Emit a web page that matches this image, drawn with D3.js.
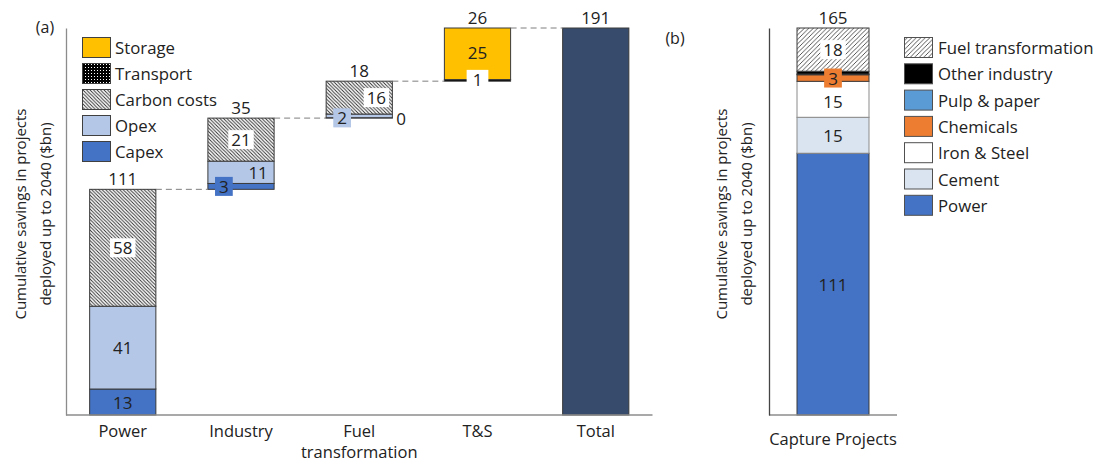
<!DOCTYPE html>
<html>
<head>
<meta charset="utf-8">
<script src="https://cdn.jsdelivr.net/npm/d3@7"></script>
<style>
  html, body { margin: 0; padding: 0; background: #fff; }
  svg text { font-family: "Open Sans", "Noto Sans", sans-serif; fill: #222; }
</style>
</head>
<body>
<svg id="chart" width="1100" height="466"></svg>
<script>
// ---- Panel (a): waterfall of savings by sector ($bn) ----
const categories = ["Power", "Industry", "Fuel transformation", "T&S"];
const totalLabel = "Total";
const capex     = [12.8, 2.9, 0.2, 0];
const opex      = [40.8, 11.0, 1.8, 0];
const carbon    = [57.6, 21.2, 16.2, 0];
const transport = [0, 0, 0, 0.8];
const storage   = [0, 0, 0, 25.4];
const seriesA = ["Capex", "Opex", "Carbon costs", "Transport", "Storage"];

// ---- Panel (b): savings by capture project type ($bn) ----
const captureCategory = ["Capture Projects"];
const seriesB = ["Power", "Cement", "Iron & Steel", "Chemicals", "Pulp & paper", "Other industry", "Fuel transformation"];
const captureValues = [111.4, 15.3, 15.3, 2.8, 0.3, 1.2, 18.4];

const yTitle = ["Cumulative savings in projects", "deployed up to 2040 ($bn)"];

const FS_VALUE = 17, FS_LEGEND = 16.8, FS_AXIS = 16.5, FS_TITLE = 15;

const fmt = d3.format(".0f");
const svg = d3.select("#chart");
const defs = svg.append("defs");

// hatch for carbon costs (\\\ direction)
const pc = defs.append("pattern").attr("id", "hatchCarbon")
  .attr("patternUnits", "userSpaceOnUse").attr("width", 3.5).attr("height", 3.5);
pc.append("rect").attr("width", 3.5).attr("height", 3.5).attr("fill", "#fff");
pc.append("path").attr("d", "M0,0 L3.5,3.5 M-1,2.5 L1,4.5 M2.5,-1 L4.5,1")
  .attr("stroke", "#2a2a2a").attr("stroke-width", 0.9);

// hatch for fuel transformation (/// direction)
const pf = defs.append("pattern").attr("id", "hatchFuel")
  .attr("patternUnits", "userSpaceOnUse").attr("width", 4.5).attr("height", 4.5);
pf.append("rect").attr("width", 4.5).attr("height", 4.5).attr("fill", "#fff");
pf.append("path").attr("d", "M0,4.5 L4.5,0 M-1,1 L1,-1 M3.5,5.5 L5.5,3.5")
  .attr("stroke", "#444").attr("stroke-width", 0.9);

// dotted fill for transport
const pt = defs.append("pattern").attr("id", "dotsTransport")
  .attr("patternUnits", "userSpaceOnUse").attr("width", 3).attr("height", 3);
pt.append("rect").attr("width", 3).attr("height", 3).attr("fill", "#000");
pt.append("rect").attr("x", 1).attr("y", 1).attr("width", 1).attr("height", 1).attr("fill", "#fff");

const fillA = {
  "Capex": "#4472C4",
  "Opex": "#B4C7E7",
  "Carbon costs": "url(#hatchCarbon)",
  "Transport": "url(#dotsTransport)",
  "Storage": "#FFC000"
};
const fillB = {
  "Power": "#4472C4",
  "Cement": "#DAE3F0",
  "Iron & Steel": "#FFFFFF",
  "Chemicals": "#ED7D31",
  "Pulp & paper": "#5B9BD5",
  "Other industry": "#000000",
  "Fuel transformation": "url(#hatchFuel)"
};
const outline = "#3a3a3a";
const axisColor = "#8c8c8c";

// ================= Panel (a) =================
const rowsA = categories.map((c, i) => ({
  cat: c,
  "Capex": capex[i], "Opex": opex[i], "Carbon costs": carbon[i],
  "Transport": transport[i], "Storage": storage[i]
}));
const catTotals = rowsA.map(r => d3.sum(seriesA, s => r[s]));
const grand = d3.sum(catTotals);
const bases = catTotals.map((t, i) => d3.sum(catTotals.slice(0, i)));

const xA = d3.scaleBand().domain([...categories, totalLabel])
  .range([66, 652.5]).paddingInner(0.44).paddingOuter(0.2);
const yA = d3.scaleLinear().domain([0, grand]).range([415, 28]);

const gA = svg.append("g");

// stacked segments with waterfall offset
const stackA = d3.stack().keys(seriesA)(rowsA);
stackA.forEach(layer => {
  layer.forEach((d, i) => {
    const v = d[1] - d[0];
    if (v <= 0) return;
    gA.append("rect")
      .attr("x", xA(categories[i]))
      .attr("width", xA.bandwidth())
      .attr("y", yA(bases[i] + d[1]))
      .attr("height", yA(bases[i] + d[0]) - yA(bases[i] + d[1]))
      .attr("fill", fillA[layer.key])
      .attr("stroke", outline).attr("stroke-width", 1);
  });
});

// total bar
gA.append("rect")
  .attr("x", xA(totalLabel)).attr("width", xA.bandwidth())
  .attr("y", yA(grand)).attr("height", yA(0) - yA(grand))
  .attr("fill", "#374C6C").attr("stroke", outline).attr("stroke-width", 1);

// dashed connectors between consecutive tops
const tops = categories.map((c, i) => bases[i] + catTotals[i]);
const order = [...categories, totalLabel];
tops.forEach((t, i) => {
  gA.append("line")
    .attr("x1", xA(order[i]) + xA.bandwidth())
    .attr("x2", xA(order[i + 1]))
    .attr("y1", yA(t)).attr("y2", yA(t))
    .attr("stroke", "#7f7f7f").attr("stroke-width", 1)
    .attr("stroke-dasharray", "6,4");
});

// axes
const axA = gA.append("g").attr("transform", `translate(0,${yA(0)})`)
  .call(d3.axisBottom(xA).tickSize(0).tickFormat(() => ""));
axA.select(".domain").attr("stroke", axisColor).attr("stroke-width", 1.3).attr("d", `M66,0H652.5`);
axA.selectAll(".tick text").remove();
axA.selectAll(".tick").each(function(d) {
  const words = d === "Fuel transformation" ? ["Fuel", "transformation"] : [d];
  const t = d3.select(this).append("text")
    .attr("text-anchor", "middle").attr("font-size", FS_AXIS).attr("fill", "#222");
  words.forEach((w, k) => t.append("tspan").attr("x", 0).attr("y", 22 + k * 21).text(w));
});

const ayA = gA.append("g").attr("transform", "translate(66,0)")
  .call(d3.axisLeft(yA).tickSize(0).tickValues([]));
ayA.select(".domain").attr("stroke", axisColor).attr("stroke-width", 1.3);

// value labels, optionally on a filled box
function label(g, x, y, text, opts = {}) {
  const t = g.append("text").attr("x", x).attr("y", y)
    .attr("text-anchor", opts.anchor || "middle")
    .attr("dominant-baseline", "central")
    .attr("font-size", opts.size || FS_VALUE)
    .attr("fill", opts.color || "#222")
    .text(text);
  if (opts.box) {
    const b = t.node().getBBox();
    const px = opts.padX != null ? opts.padX : 3;
    g.insert("rect", () => t.node())
      .attr("x", b.x - px).attr("y", b.y + 2)
      .attr("width", b.width + 2 * px).attr("height", b.height - 4)
      .attr("fill", opts.box);
  }
  return t;
}

stackA.forEach(layer => {
  layer.forEach((d, i) => {
    const v = d[1] - d[0];
    const cat = categories[i];
    if (v <= 0 && !(layer.key === "Capex" && cat === "Fuel transformation")) return;
    const x0 = xA(cat), bw = xA.bandwidth(), cx = x0 + bw / 2;
    const yMid = (yA(bases[i] + d[0]) + yA(bases[i] + d[1])) / 2;
    const txt = fmt(v);
    const key = layer.key;
    if (cat === "Power") {
      if (key === "Capex") label(gA, cx, yMid, txt, { color: "#fff" });
      else if (key === "Opex") label(gA, cx, yMid, txt);
      else if (key === "Carbon costs") label(gA, cx, yMid, txt, { box: "#fff" });
    } else if (cat === "Industry") {
      if (key === "Capex") label(gA, x0 + 16, yMid, txt, { box: fillA.Capex, color: "#fff", padX: 4 });
      else if (key === "Opex") label(gA, x0 + bw - 16, yMid, txt);
      else if (key === "Carbon costs") label(gA, cx, yMid, txt, { box: "#fff" });
    } else if (cat === "Fuel transformation") {
      if (key === "Capex") label(gA, x0 + bw + 4, yA(bases[i] + d[0]), txt, { anchor: "start" });
      else if (key === "Opex") label(gA, x0 + 16, yMid + 2, txt, { box: fillA.Opex, padX: 4 });
      else if (key === "Carbon costs") label(gA, x0 + bw - 16, yMid, txt, { box: "#fff" });
    } else if (cat === "T&S") {
      if (key === "Transport") label(gA, cx, yMid - 1, txt, { box: "#fff", padX: 6 });
      else if (key === "Storage") label(gA, cx, yMid - 1, txt);
    }
  });
});
categories.forEach((c, i) => {
  label(gA, xA(c) + xA.bandwidth() / 2, yA(tops[i]) - 11, fmt(catTotals[i]));
});
label(gA, xA(totalLabel) + xA.bandwidth() / 2, yA(grand) - 11, fmt(grand));

// legend (a)
const legA = ["Storage", "Transport", "Carbon costs", "Opex", "Capex"];
legA.forEach((s, k) => {
  const cy = 47.5 + k * 26;
  gA.append("rect").attr("x", 82.5).attr("y", cy - 10).attr("width", 28).attr("height", 20)
    .attr("fill", fillA[s]).attr("stroke", "#404040").attr("stroke-width", 1);
  gA.append("text").attr("x", 115).attr("y", cy).attr("dominant-baseline", "central")
    .attr("font-size", FS_LEGEND).text(s);
});

// rotated two-line axis titles
function yTitleAt(x1, x2, cy) {
  yTitle.forEach((line, k) => {
    svg.append("text")
      .attr("transform", `translate(${[x1, x2][k]},${cy}) rotate(-90)`)
      .attr("text-anchor", "middle").attr("dominant-baseline", "central")
      .attr("font-size", FS_TITLE).text(line);
  });
}
yTitleAt(20, 45, 214);
svg.append("text").attr("x", 45).attr("y", 27).attr("text-anchor", "middle")
  .attr("dominant-baseline", "central").attr("font-size", 16).text("(a)");

// ================= Panel (b) =================
const rowB = {};
seriesB.forEach((s, k) => rowB[s] = captureValues[k]);
rowB.cat = captureCategory[0];
const totalB = d3.sum(captureValues);

const xB = d3.scaleBand().domain(captureCategory).range([769, 897]).paddingInner(0).paddingOuter(0.389);
const yB = d3.scaleLinear().domain([0, totalB]).range([415, 28]);
const gB = svg.append("g");

const stackB = d3.stack().keys(seriesB)([rowB]);
stackB.forEach(layer => {
  const d = layer[0];
  gB.append("rect")
    .attr("x", xB(rowB.cat)).attr("width", xB.bandwidth())
    .attr("y", yB(d[1])).attr("height", yB(d[0]) - yB(d[1]))
    .attr("fill", fillB[layer.key])
    .attr("stroke", layer.key === "Cement" || layer.key === "Iron & Steel" ? "#8a8a8a" : outline)
    .attr("stroke-width", 1);
});

const axB = gB.append("g").attr("transform", `translate(0,${yB(0)})`)
  .call(d3.axisBottom(xB).tickSize(0).tickFormat(() => ""));
axB.select(".domain").attr("stroke", axisColor).attr("stroke-width", 1.3).attr("d", "M769,0H897");
axB.selectAll(".tick text").remove();
axB.selectAll(".tick").append("text").attr("y", 30).attr("text-anchor", "middle")
  .attr("font-size", FS_AXIS).attr("fill", "#222").text(d => d);

const ayB = gB.append("g").attr("transform", "translate(769,0)")
  .call(d3.axisLeft(yB).tickSize(0).tickValues([]));
ayB.select(".domain").attr("stroke", "#444").attr("stroke-width", 1.3);

const cxB = xB(rowB.cat) + xB.bandwidth() / 2;
stackB.forEach(layer => {
  const d = layer[0];
  const yMid = (yB(d[0]) + yB(d[1])) / 2;
  const txt = fmt(d[1] - d[0]);
  switch (layer.key) {
    case "Power": label(gB, cxB, yMid, txt, { color: "#fff" }); break;
    case "Cement": label(gB, cxB, yMid, txt); break;
    case "Iron & Steel": label(gB, cxB, yMid + 2, txt); break;
    case "Chemicals": label(gB, cxB, yMid, txt, { box: fillB.Chemicals, padX: 4 }); break;
    case "Fuel transformation": label(gB, cxB, yMid, txt, { box: "#fff" }); break;
  }
});
label(gB, cxB, yB(totalB) - 11, fmt(totalB));

// legend (b)
const legB = ["Fuel transformation", "Other industry", "Pulp & paper", "Chemicals", "Iron & Steel", "Cement", "Power"];
legB.forEach((s, k) => {
  const cy = 47.5 + k * 26.3;
  gB.append("rect").attr("x", 904.5).attr("y", cy - 10).attr("width", 28).attr("height", 20)
    .attr("fill", fillB[s]).attr("stroke", "#505050").attr("stroke-width", 1);
  gB.append("text").attr("x", 938).attr("y", cy).attr("dominant-baseline", "central")
    .attr("font-size", FS_LEGEND).text(s);
});

yTitleAt(721, 746, 214);
svg.append("text").attr("x", 675).attr("y", 38).attr("text-anchor", "middle")
  .attr("dominant-baseline", "central").attr("font-size", 16).text("(b)");
</script>
</body>
</html>
